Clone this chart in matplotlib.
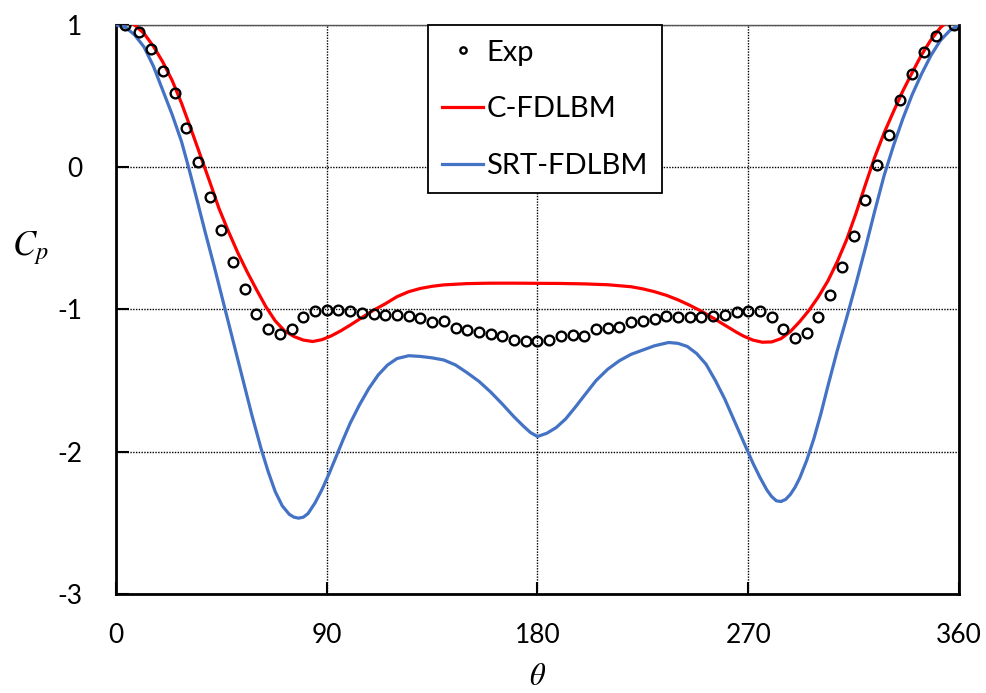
import matplotlib
matplotlib.use("Agg")
import matplotlib.pyplot as plt

# ---- data ----
exp_theta = [4, 10, 15, 20, 25, 30, 35, 40, 45, 50, 55, 60, 65, 70, 75, 80, 85, 90,
             95, 100, 105, 110, 115, 120, 125, 130, 135, 140, 145, 150, 155, 160, 165,
             170, 175, 180, 185, 190, 195, 200, 205, 210, 215, 220, 225, 230, 235, 240,
             245, 250, 255, 260, 265, 270, 275, 280, 285, 290, 295, 300, 305, 310, 315,
             320, 325, 330, 335, 340, 345, 350, 358]
exp_cp = [1.0, 0.95, 0.833, 0.68, 0.525, 0.273, 0.037, -0.21, -0.438, -0.668, -0.854,
          -1.03, -1.135, -1.173, -1.135, -1.056, -1.008, -1.002, -1.007, -1.01, -1.028,
          -1.032, -1.042, -1.037, -1.043, -1.058, -1.085, -1.082, -1.127, -1.141, -1.158,
          -1.172, -1.183, -1.213, -1.219, -1.219, -1.213, -1.183, -1.178, -1.183, -1.139,
          -1.132, -1.12, -1.09, -1.078, -1.066, -1.045, -1.055, -1.055, -1.055, -1.043,
          -1.038, -1.021, -1.008, -1.01, -1.05, -1.136, -1.202, -1.167, -1.055, -0.897,
          -0.702, -0.482, -0.23, 0.016, 0.229, 0.47, 0.653, 0.812, 0.92, 1.0]

c_theta = [0, 4, 8, 12, 16, 20, 24, 28, 32, 36, 40, 44, 48, 52, 56, 60, 64, 68, 72, 76,
           80, 84, 88, 92, 96, 100, 105, 110, 115, 120, 125, 130, 135, 140, 150, 160,
           170, 180, 190, 200, 210, 220, 225, 230, 235, 240, 245, 250, 255, 260, 265,
           268, 272, 276, 280, 284, 288, 292, 296, 300, 304, 308, 312, 316, 320, 324,
           328, 332, 336, 340, 344, 348, 352, 356, 360]
c_cp = [1.05, 1.04, 1.0, 0.94, 0.85, 0.74, 0.61, 0.45, 0.27, 0.085, -0.10, -0.29,
        -0.45, -0.60, -0.735, -0.86, -0.98, -1.08, -1.15, -1.19, -1.215, -1.225,
        -1.212, -1.185, -1.15, -1.11, -1.057, -1.005, -0.96, -0.91, -0.875, -0.852,
        -0.837, -0.827, -0.818, -0.815, -0.815, -0.816, -0.817, -0.82, -0.826, -0.84,
        -0.855, -0.875, -0.90, -0.932, -0.97, -1.012, -1.06, -1.11, -1.16, -1.187,
        -1.215, -1.23, -1.228, -1.205, -1.155, -1.085, -1.005, -0.91, -0.80, -0.665,
        -0.51, -0.325, -0.125, 0.07, 0.24, 0.39, 0.535, 0.665, 0.79, 0.895, 0.98,
        1.04, 1.065]

srt_theta = [0, 4, 8, 12, 16, 20, 24, 28, 31, 34, 38, 42, 46, 50, 54, 58, 62, 65, 68,
             71, 74, 76, 78, 80, 82, 85, 88, 91, 94, 97, 100, 104, 108, 112, 116, 120,
             125, 130, 135, 140, 145, 150, 155, 160, 165, 170, 174, 177, 180, 184, 188,
             192, 196, 200, 205, 210, 215, 220, 225, 230, 236, 240, 244, 248, 252, 256,
             260, 264, 268, 272, 275, 278, 280, 282, 284, 286, 288, 290, 292, 295, 298,
             301, 304, 308, 312, 316, 320, 324, 328, 332, 336, 340, 344, 348, 352, 356,
             360]
srt_cp = [1.0, 0.985, 0.93, 0.845, 0.71, 0.54, 0.37, 0.18, 0.0, -0.19, -0.45, -0.70,
          -0.96, -1.22, -1.48, -1.74, -1.98, -2.14, -2.28, -2.38, -2.44, -2.46, -2.467,
          -2.46, -2.435, -2.36, -2.265, -2.155, -2.035, -1.915, -1.80, -1.67, -1.555,
          -1.46, -1.39, -1.345, -1.325, -1.33, -1.34, -1.355, -1.39, -1.445, -1.505,
          -1.58, -1.665, -1.755, -1.82, -1.865, -1.893, -1.87, -1.83, -1.77, -1.69,
          -1.605, -1.50, -1.42, -1.36, -1.315, -1.285, -1.255, -1.232, -1.238, -1.26,
          -1.31, -1.385, -1.50, -1.63, -1.78, -1.93, -2.08, -2.18, -2.27, -2.315, -2.345,
          -2.35, -2.335, -2.30, -2.25, -2.185, -2.06, -1.91, -1.735, -1.54, -1.29,
          -1.06, -0.82, -0.57, -0.31, -0.06, 0.15, 0.34, 0.51, 0.655, 0.785, 0.89,
          0.96, 1.0]

x_ticks = [0, 90, 180, 270, 360]
y_ticks = [1, 0, -1, -2, -3]

plt.rcParams['font.family'] = ['Lato', 'DejaVu Sans']
plt.rcParams['mathtext.fontset'] = 'stix'

fig = plt.figure(figsize=(9.87, 6.93), dpi=100)
ax = fig.add_axes([0.1175, 0.1429, 0.9716 - 0.1175, 0.9639 - 0.1429])

ax.plot(srt_theta, srt_cp, color='#4472C4', lw=2.3, label='SRT-FDLBM', zorder=3,
        solid_joinstyle='round')
ax.plot(c_theta, c_cp, color='#FF0000', lw=2.3, label='C-FDLBM', zorder=3,
        solid_joinstyle='round')
ax.plot(exp_theta, exp_cp, linestyle='none', marker='o', markersize=7,
        markerfacecolor='none', markeredgecolor='black', markeredgewidth=1.7,
        label='Exp', zorder=4)

ax.set_xlim(0, 360)
ax.set_ylim(-3, 1)
ax.set_xticks(x_ticks)
ax.set_yticks(y_ticks)
ax.set_xticklabels([str(v) for v in x_ticks])
ax.set_yticklabels([str(v) for v in y_ticks])

ax.grid(True, color='black', linestyle=(0, (1, 1)), linewidth=1.0)
ax.set_axisbelow(True)

ax.tick_params(axis='both', direction='in', length=9, width=1.5, labelsize=19,
               pad=24)
ax.tick_params(axis='x', pad=21)

for side in ['left', 'bottom', 'right']:
    ax.spines[side].set_linewidth(2.0)
    ax.spines[side].set_color('black')
ax.spines['top'].set_linewidth(1.0)
ax.spines['top'].set_color('#555555')

ax.set_xlabel(r'$\theta$', fontsize=22)
ax.set_ylabel(r'$C_p$', fontsize=25, rotation=0)
ax.yaxis.set_label_coords(-0.102, 0.575)
ax.xaxis.set_label_coords(0.5, -0.12)

handles, labels = ax.get_legend_handles_labels()
order = [2, 1, 0]
leg = ax.legend([handles[i] for i in order], [labels[i] for i in order],
                loc='upper left', bbox_to_anchor=(0.370, 1.0), borderaxespad=0,
                fontsize=21, frameon=True, fancybox=False, edgecolor='black',
                framealpha=1, handlelength=1.4, handletextpad=0.1,
                labelspacing=1.05, borderpad=0.5, markerscale=0.65)
leg.get_frame().set_linewidth(1.3)

fig.savefig('out.png', dpi=100)
